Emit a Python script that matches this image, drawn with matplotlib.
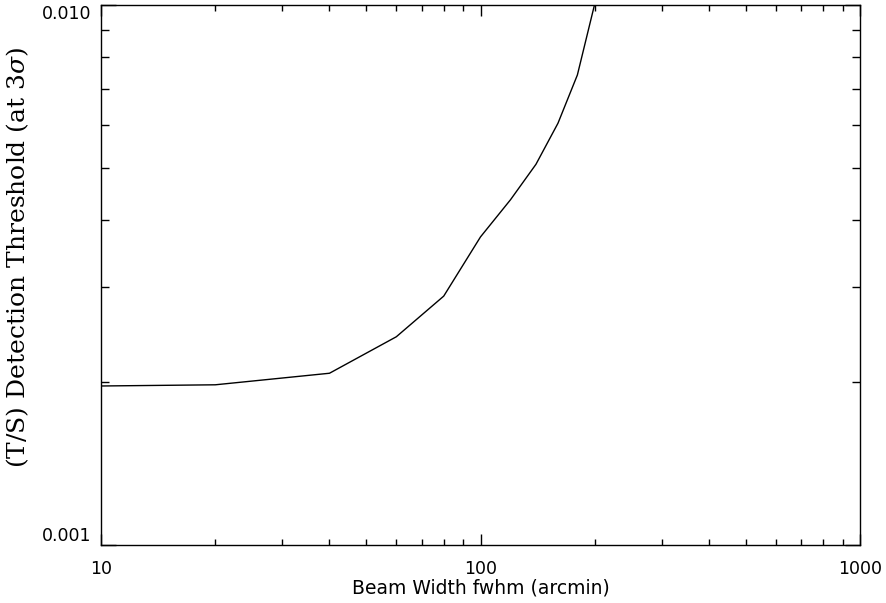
import numpy as np
import matplotlib
matplotlib.use('Agg')
import matplotlib.pyplot as plt
from matplotlib.ticker import FixedLocator, NullFormatter

# beam width (arcmin) vs detection threshold
beam_fwhm = [10, 20, 40, 60, 80, 100, 120, 140, 160, 180, 200]
threshold = [1.97e-3, 1.98e-3, 2.08e-3, 2.43e-3, 2.89e-3, 3.72e-3,
             4.36e-3, 5.07e-3, 6.04e-3, 7.42e-3, 1.005e-2]

xmajor = [10, 100, 1000]
xmajor_labels = ['10', '100', '1000']
ymajor = [0.001, 0.01]
ymajor_labels = ['0.001', '0.010']

plt.rcParams['mathtext.fontset'] = 'dejavuserif'

fig = plt.figure(figsize=(8.86, 6.03), dpi=100)
ax = fig.add_axes([101/886, 1 - 545/603, 759/886, 540/603])
ax.plot(beam_fwhm, threshold, color='black', lw=1.0)

ax.set_xscale('log')
ax.set_yscale('log')
ax.set_xlim(10, 1000)
ax.set_ylim(0.001, 0.01)

ax.xaxis.set_major_locator(FixedLocator(xmajor))
ax.set_xticklabels(xmajor_labels)
ax.xaxis.set_minor_locator(FixedLocator([20, 30, 40, 50, 60, 70, 80, 90,
                                         200, 300, 400, 500, 600, 700, 800, 900]))
ax.xaxis.set_minor_formatter(NullFormatter())
ax.yaxis.set_major_locator(FixedLocator(ymajor))
ax.set_yticklabels(ymajor_labels)
ax.yaxis.set_minor_locator(FixedLocator([0.002, 0.003, 0.004, 0.005, 0.006,
                                         0.007, 0.008, 0.009]))
ax.yaxis.set_minor_formatter(NullFormatter())

ax.tick_params(which='both', direction='in', top=True, right=True,
               width=1.0, color='black')
ax.tick_params(axis='x', which='major', length=8, pad=11, labelsize=12.5)
ax.tick_params(axis='x', which='minor', length=4)
ax.tick_params(axis='y', which='major', length=11, pad=7, labelsize=12.5)
ax.tick_params(axis='y', which='minor', length=5.5)
for s in ax.spines.values():
    s.set_linewidth(1.0)

labs = ax.get_yticklabels()
labs[0].set_va('bottom')
labs[1].set_va('top')

ax.set_xlabel('Beam Width fwhm (arcmin)', fontsize=13.5, labelpad=0)
fig.text(18/886, 1 - 257/603, r'(T/S) Detection Threshold (at 3$\sigma$)',
         rotation=90, ha='center', va='center', fontsize=18,
         family='DejaVu Serif')

fig.savefig('out.png', dpi=100)
